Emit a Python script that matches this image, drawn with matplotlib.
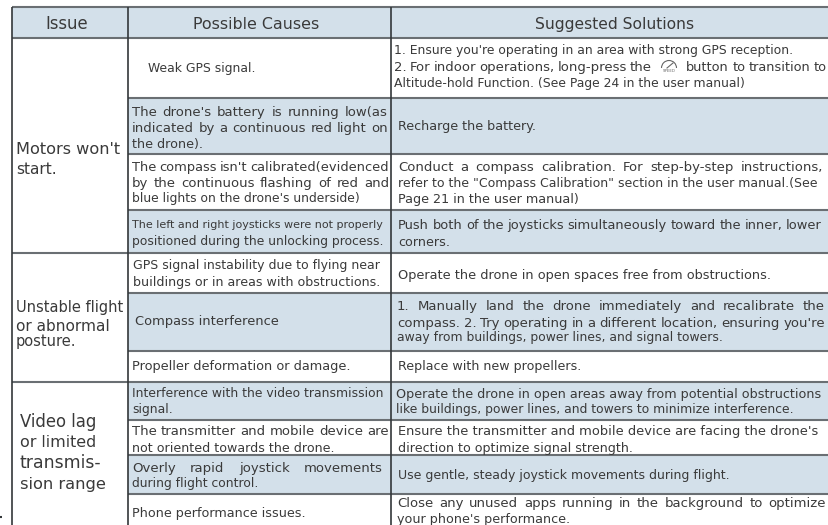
import matplotlib
matplotlib.use("Agg")
import matplotlib.pyplot as plt
from matplotlib.patches import Rectangle, Arc

# Table text
headers = ["Issue", "Possible Causes", "Suggested Solutions"]
issues = ["Motors won't", "start.",
          "Unstable flight", "or abnormal", "posture.",
          "Video lag", "or limited", "transmis-", "sion range"]
causes = ["Weak GPS signal.",
          "The drone's battery is running low(as",
          "indicated by a continuous red light on",
          "the drone).",
          "The compass isn't calibrated(evidenced",
          "by the continuous flashing of red and",
          "blue lights on the drone's underside)",
          "The left and right joysticks were not properly",
          "positioned during the unlocking process.",
          "GPS signal instability due to flying near",
          "buildings or in areas with obstructions.",
          "Compass interference",
          "Propeller deformation or damage.",
          "Interference with the video transmission",
          "signal.",
          "The transmitter and mobile device are",
          "not oriented towards the drone.",
          "Overly rapid joystick movements",
          "during flight control.",
          "Phone performance issues."]
solutions = ["1. Ensure you're operating in an area with strong GPS reception.",
             "2. For indoor operations, long-press the",
             "button to transition to",
             "Altitude-hold Function. (See Page 24 in the user manual)",
             "Recharge the battery.",
             "Conduct a compass calibration. For step-by-step instructions,",
             "refer to the \"Compass Calibration\" section in the user manual.(See",
             "Page 21 in the user manual)",
             "Push both of the joysticks simultaneously toward the inner, lower",
             "corners.",
             "Operate the drone in open spaces free from obstructions.",
             "1. Manually land the drone immediately and recalibrate the",
             "compass.  2. Try operating in a different location, ensuring you're",
             "away from buildings, power lines, and signal towers.",
             "Replace with new propellers.",
             "Operate the drone in open areas away from potential obstructions",
             "like buildings, power lines, and towers to minimize interference.",
             "Ensure the transmitter and mobile device are facing the drone's",
             "direction to optimize signal strength.",
             "Use gentle, steady joystick movements during flight.",
             "Close any unused apps running in the background to optimize",
             "your phone's performance."]

# Layout in image pixels: (left, right, y centre, justified)
header_pos = [(45, 88, 23), (193, 320, 23), (535, 696, 23)]
issue_pos = [(16, 121, 148), (16, 57, 168),
             (16, 124, 307), (16, 111, 325), (16, 77, 341),
             (20, 98, 421), (20, 97, 441), (20, 102, 462), (20, 107, 483)]
cause_pos = [(148, 252, 68, 0), (132, 388, 111, 1), (132, 388, 127, 1), (132, 204, 143, 0),
             (132, 389, 166, 1), (132, 389, 182, 1), (132, 363, 198, 0),
             (132, 386, 224, 0), (132, 376, 241, 0),
             (133, 383, 264, 0), (133, 382, 281, 0), (135, 280, 320, 0), (132, 352, 365, 0),
             (132, 386, 393, 0), (132, 172, 409, 0), (132, 389, 430, 1), (132, 335, 447, 0),
             (132, 383, 467, 1), (132, 260, 483, 0), (132, 307, 512, 0)]
solution_pos = [(394, 783, 50, 0), (394, 652, 66, 1), (686, 827, 66, 1), (394, 750, 83, 0),
                (398, 538, 125, 0), (398, 823, 166, 1), (398, 823, 182, 0), (398, 580, 198, 0),
                (398, 822, 224, 1), (398, 450, 241, 0), (398, 773, 274, 0),
                (397, 825, 305, 1), (397, 825, 322, 1), (397, 724, 337, 0), (398, 582, 365, 0),
                (396, 826, 393, 0), (396, 800, 409, 0), (398, 822, 430, 0), (398, 633, 447, 0),
                (398, 734, 474, 0), (397, 826, 502, 1), (397, 572, 518, 0)]
col_x = [12, 128, 391.5]
row_y = [7, 38, 98, 154, 210, 252.5, 293, 350.5, 381.5, 420, 455, 494]
full_rules = (7, 38, 252.5, 381.5)
shaded = [(7, 38), (98, 154), (210, 252.5), (293, 350.5), (381.5, 420), (455, 494)]

FONT = "DejaVu Sans"
TEXT = "#3a3a3a"
BASE = 9.5
MIN_SIZE = 8.9

fig = plt.figure(figsize=(8.29, 5.25), dpi=100)
ax = fig.add_axes([0, 0, 1, 1])
ax.set_xlim(0, 829)
ax.set_ylim(525, 0)
ax.axis("off")
renderer = fig.canvas.get_renderer()


def width_of(s, size):
    t = ax.text(0, 0, s, fontsize=size, family=FONT)
    w = t.get_window_extent(renderer).width
    t.remove()
    return w


def draw_line(s, x0, x1, y, justify=False, limit=829):
    if justify and " " in s:
        words = s.split()
        size = BASE
        w = [width_of(k, size) for k in words]
        while sum(w) + 3.0 * (len(words) - 1) > x1 - x0:
            size -= 0.1
            w = [width_of(k, size) for k in words]
        gap = (x1 - x0 - sum(w)) / (len(words) - 1)
        x = x0
        for k, wk in zip(words, w):
            ax.text(x, y + size * 0.5, k, fontsize=size, family=FONT, color=TEXT, va="baseline")
            x += wk + gap
    else:
        # natural line: size it so the run ends where the reference does
        fit = BASE * (x1 - x0) / width_of(s, BASE)
        size = max(fit, MIN_SIZE)
        if x0 + width_of(s, size) > limit:
            size = fit
        ax.text(x0, y + size * 0.5, s, fontsize=size, family=FONT, color=TEXT, va="baseline")


# Shaded rows
for top, bottom in shaded:
    x_left = col_x[0] if top == 7 else col_x[1]
    ax.add_patch(Rectangle((x_left, top), 829 - x_left, bottom - top, fc="#d3e0ea", ec="none", zorder=0))

# Rules
for y in row_y:
    x_left = col_x[0] if y in full_rules else col_x[1]
    ax.plot([x_left, 829], [y, y], color="#6a6f73", lw=1.5, solid_capstyle="butt", zorder=2)
for x in col_x:
    ax.plot([x, x], [7, 525], color="#33373a", lw=1.2, solid_capstyle="butt", zorder=3)

for s, (x0, x1, y) in zip(headers, header_pos):
    draw_line(s, x0, x1, y)
for s, (x0, x1, y) in zip(issues, issue_pos):
    draw_line(s, x0, x1, y)
for s, (x0, x1, y, j) in zip(causes, cause_pos):
    draw_line(s, x0, x1, y, j, limit=389)
for s, (x0, x1, y, j) in zip(solutions, solution_pos):
    draw_line(s, x0, x1, y, j, limit=827)

# Speed button icon
ax.add_patch(Arc((669, 68), 15, 15, theta1=180, theta2=360, color="#666666", lw=0.8))
ax.plot([667, 673], [68, 63], color="#666666", lw=0.8)
ax.text(669, 71.5, "SPEED", fontsize=2.8, family=FONT, color="#666666", ha="center", va="center")

# stray mark at the page edge
ax.plot([0, 2.5], [517, 517], color="#33373a", lw=1.5, solid_capstyle="butt")

fig.savefig("out.png", dpi=100)
